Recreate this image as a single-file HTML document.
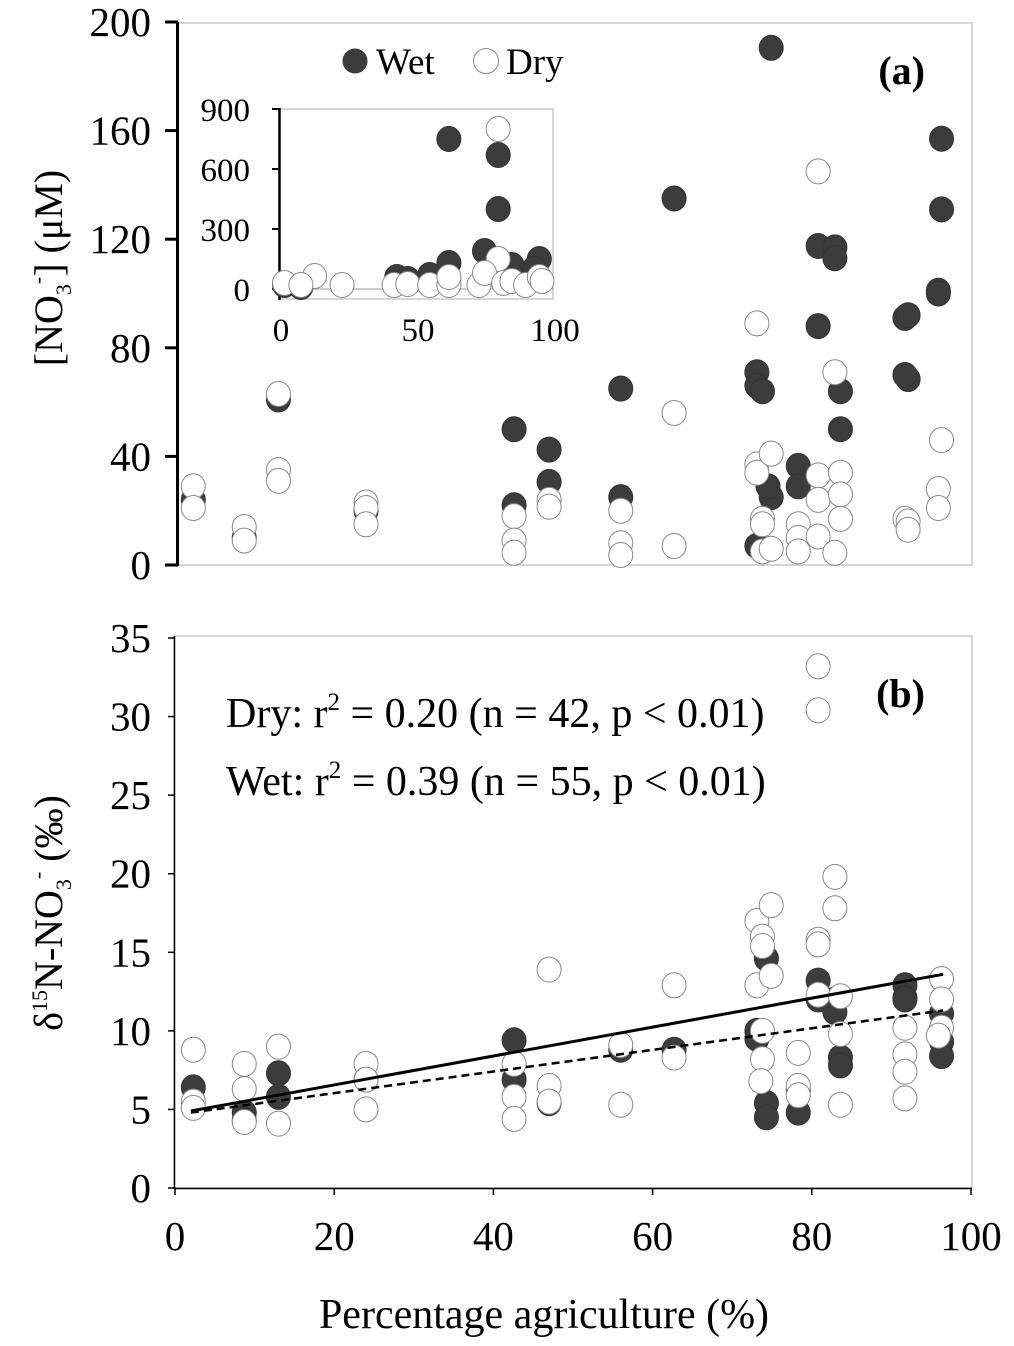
<!DOCTYPE html>
<html><head><meta charset="utf-8"><style>
body{margin:0;background:#fff}
svg{display:block;font-family:"Liberation Serif",serif}
</style></head><body>
<svg id="c" width="1014" height="1346" viewBox="0 0 1014 1346"></svg>
<script>
// Panel (a): [NO3-] concentration vs % agriculture
const aWetX=[2.3,8.7,13,24,42.6,42.6,47,47,56,56,62.7,73.1,73.1,73.8,73.1,74.9,74.9,74.5,78.3,78.3,80.8,80.8,82.9,82.9,83.6,83.6,91.7,92.1,92.1,91.7,96.3,96.3,95.9,95.9];
const aWetY=[24,10,61,20,50,22,42.5,30.6,65,25,135,71,66,64,7,190.5,25,29,36.5,29,88,117.5,117,113,64,50,91,92,68.5,70,157,131,101,100];
const aDryX=[2.3,2.3,8.7,8.7,13,13,13,24,24,24,42.6,42.6,42.6,47,47,56,56,56,62.7,62.7,73.1,73.1,73.1,73.8,73.8,73.8,74.9,74.9,78.3,78.3,78.3,80.8,80.8,80.8,80.8,82.9,82.9,83.6,83.6,83.6,91.7,92.1,92.1,96.3,95.9,95.9];
const aDryY=[29,21,14,9,63,35,31,23,21,15,18,9,4.5,24,21.5,20,8,3.7,56,7,89,37,34,17,15,5,41,6,15,10,5,145,33,24,10.5,71,4.5,34,26,17,17,16,13,46,28,21];
// Inset
const iWetX=[62,80,80,75,62,95,93,55,43,47,85,2,8];
const iWetY=[750,670,400,190,130,150,100,70,60,50,120,20,10];
const iDryX=[80,80,13,2,8,23,42,47,55,62,62,73,75,82,85,90,95,96];
const iDryY=[800,150,65,30,20,20,20,25,20,20,60,20,80,30,40,20,60,40];
// Panel (b): d15N vs % agriculture
const bWetX=[2.3,8.7,8.7,13,13,24,42.6,42.6,47,56,62.7,73.1,73.1,74.3,74.3,74.3,78.3,78.3,80.8,80.8,82.9,82.9,83.6,83.6,91.7,91.7,91.7,96.3,96.3,96.3];
const bWetY=[6.4,4.8,4.3,7.3,5.8,6.9,9.4,6.9,5.4,8.8,8.8,10,9.5,14.6,5.4,4.5,4.8,6.2,13.2,12,12,11.2,8.3,7.8,12.9,12.1,12,11.1,9.3,8.4];
const bDryX=[2.3,2.3,2.3,8.7,8.7,8.7,13,13,24,24,24,42.6,42.6,42.6,47,47,47,56,56,62.7,62.7,73.1,73.1,73.8,73.8,74.9,74.9,73.8,73.8,73.6,78.3,78.3,78.3,80.8,80.8,80.8,80.8,80.8,82.9,82.9,83.6,83.6,83.6,91.7,91.7,91.7,91.7,96.3,96.3,96.3,95.9];
const bDryY=[8.8,5.5,5.1,7.9,6.3,4.2,9.0,4.1,7.9,6.9,5.0,7.9,5.8,4.4,13.9,6.5,5.5,9.1,5.3,12.9,8.3,17,12.9,16,15.4,18,13.5,10,8.2,6.8,8.6,6.5,5.9,33.2,30.4,15.8,15.5,12.3,19.8,17.8,12.2,9.8,5.3,10.2,8.5,7.4,5.7,13.3,12,10.2,9.7];
const lineX=[2,96.5];
const wetFit=[4.9,13.6];
const dryFit=[4.8,11.3];

const NS='http://www.w3.org/2000/svg';
const svg=document.getElementById('c');
function mk(t,a,p){const e=document.createElementNS(NS,t);for(const k in a)e.setAttribute(k,a[k]);(p||svg).appendChild(e);return e;}
const xs=v=>175+v*7.96;
const ya=v=>565-v*2.715;
const yb=v=>1188-v*15.714;
const xi=v=>279+v*2.74;
const yi=v=>289-v*0.2;

// Panel a frame
let e=mk('rect',{x:177,y:23,width:795,height:542,fill:'none',stroke:'#c8c8c8','stroke-width':1.5});

e=mk('line',{x1:177.5,y1:22,x2:177.5,y2:566,stroke:'#000','stroke-width':3});

[0,40,80,120,160,200].forEach(v=>{
 mk('line',{x1:165,y1:ya(v),x2:178,y2:ya(v),stroke:'#000','stroke-width':3});
 e=mk('text',{x:151,y:ya(v)+14,'text-anchor':'end','font-size':41});e.textContent=v;
 
});
e=mk('text',{transform:'translate(62,268) rotate(-90)','text-anchor':'middle','font-size':40});
e.innerHTML='[NO<tspan font-size="22" dy="9">3</tspan><tspan font-size="22" dy="-26">-</tspan><tspan dy="17">] (μM)</tspan>';

e=mk('text',{x:925,y:84,'text-anchor':'end','font-size':40,'font-weight':'bold'});e.textContent='(a)';


function dots(X,Y,fx,fy,wet,name){
 X.forEach((v,i)=>{const c=mk('ellipse',{cx:fx(v),cy:fy(Y[i]),rx:12,ry:12.5,fill:wet?'#3c3c3c':'#fff',stroke:wet?'#333':'#888','stroke-width':1});
 });
}
dots(aWetX,aWetY,xs,ya,true,'wet-point');
dots(aDryX,aDryY,xs,ya,false,'dry-point');

// legend
e=mk('circle',{cx:355,cy:61,r:12.5,fill:'#3c3c3c'});
e=mk('text',{x:376,y:74,'font-size':37});e.textContent='Wet';
e=mk('circle',{cx:486,cy:61,r:12.5,fill:'#fff',stroke:'#888'});
e=mk('text',{x:506,y:74,'font-size':37});e.textContent='Dry';

// inset
e=mk('rect',{x:279,y:109,width:274,height:190,fill:'#fff',stroke:'#c8c8c8','stroke-width':1.5});

mk('line',{x1:279,y1:289,x2:553,y2:289,stroke:'#999','stroke-width':1});
mk('line',{x1:279.5,y1:108,x2:279.5,y2:300,stroke:'#000','stroke-width':2.5});
[0,300,600,900].forEach(v=>{
 mk('line',{x1:272,y1:yi(v),x2:280,y2:yi(v),stroke:'#000','stroke-width':2});
 e=mk('text',{x:250,y:yi(v)+12,'text-anchor':'end','font-size':33});e.textContent=v;
 
});
[0,50,100].forEach(v=>{
 e=mk('text',{x:xi(v)+2,y:341,'text-anchor':'middle','font-size':33});e.textContent=v;
 
});
dots(iWetX,iWetY,xi,yi,true,'inset-wet-point');
dots(iDryX,iDryY,xi,yi,false,'inset-dry-point');

// Panel b
e=mk('rect',{x:174,y:636,width:798,height:552,fill:'none',stroke:'#c8c8c8','stroke-width':1.5});

mk('line',{x1:174.5,y1:636,x2:174.5,y2:1189,stroke:'#000','stroke-width':1.5});
mk('line',{x1:174,y1:1188.5,x2:972,y2:1188.5,stroke:'#000','stroke-width':1.5});
[0,5,10,15,20,25,30,35].forEach(v=>{
 mk('line',{x1:168,y1:yb(v),x2:175,y2:yb(v),stroke:'#000','stroke-width':1.5});
 e=mk('text',{x:151,y:yb(v)+14,'text-anchor':'end','font-size':41});e.textContent=v;
 
});
[0,20,40,60,80,100].forEach(v=>{
 mk('line',{x1:xs(v),y1:1188,x2:xs(v),y2:1195,stroke:'#000','stroke-width':1.5});
 e=mk('text',{x:xs(v),y:1250,'text-anchor':'middle','font-size':41});e.textContent=v;
 
});
e=mk('text',{x:544,y:1328,'text-anchor':'middle','font-size':42});e.textContent='Percentage agriculture (%)';

e=mk('text',{transform:'translate(62,913) rotate(-90)','text-anchor':'middle','font-size':40});
e.innerHTML='δ<tspan font-size="22" dy="-15">15</tspan><tspan dy="15">N-NO</tspan><tspan font-size="22" dy="9">3</tspan><tspan font-size="22" dy="-26">-</tspan><tspan dy="17">  (‰)</tspan>';

e=mk('text',{x:925,y:707,'text-anchor':'end','font-size':40,'font-weight':'bold'});e.textContent='(b)';

dots(bWetX,bWetY,xs,yb,true,'wet-point');
dots(bDryX,bDryY,xs,yb,false,'dry-point');
e=mk('line',{x1:xs(lineX[0]),y1:yb(wetFit[0]),x2:xs(lineX[1]),y2:yb(wetFit[1]),stroke:'#000','stroke-width':3});

e=mk('line',{x1:xs(lineX[0]),y1:yb(dryFit[0]),x2:xs(lineX[1]),y2:yb(dryFit[1]),stroke:'#000','stroke-width':2.5,'stroke-dasharray':'8,5'});

e=mk('text',{x:226,y:727,'font-size':42});e.innerHTML='Dry: r<tspan font-size="25" dy="-17">2</tspan><tspan dy="17"> = 0.20 (n = 42, p &lt; 0.01)</tspan>';

e=mk('text',{x:226,y:795,'font-size':42});e.innerHTML='Wet: r<tspan font-size="25" dy="-17">2</tspan><tspan dy="17"> = 0.39 (n = 55, p &lt; 0.01)</tspan>';

</script>
</body></html>
